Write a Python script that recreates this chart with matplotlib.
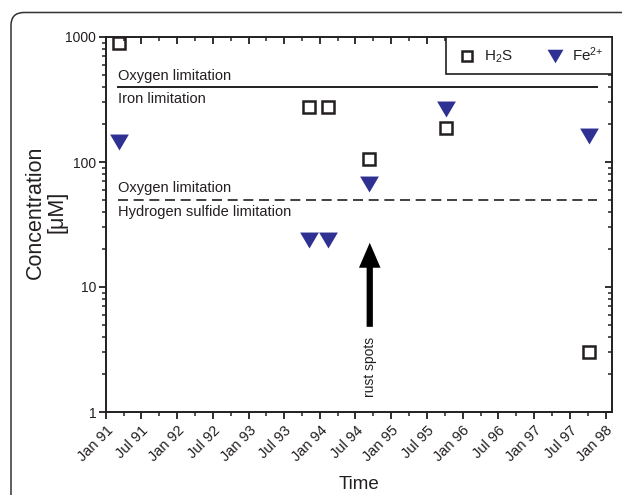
import numpy as np
import matplotlib
matplotlib.use("Agg")
import matplotlib.pyplot as plt
import matplotlib.dates as mdates
from matplotlib.patches import FancyBboxPatch
from matplotlib.transforms import IdentityTransform

# フォント設定
plt.rcParams["font.family"] = ["Liberation Sans", "DejaVu Sans"]
plt.rcParams["mathtext.fontset"] = "custom"
plt.rcParams["mathtext.rm"] = "Liberation Sans"
plt.rcParams["mathtext.it"] = "Liberation Sans:italic"
plt.rcParams["mathtext.bf"] = "Liberation Sans:bold"

txt_color = "#231f20"
fe_color = "#2e3192"

# データ
h2s_dates = ["1991-03-11", "1993-11-07", "1994-02-09", "1994-09-10", "1995-10-08", "1997-10-10"]
h2s_values = [895, 274, 274, 106, 188, 3.0]
fe_dates = ["1991-03-11", "1993-11-07", "1994-02-09", "1994-09-10", "1995-10-08", "1997-10-10"]
fe_values = [145, 23.8, 23.8, 67, 266, 162]

# 限界線
limit_start = "1991-03-01"
limit_end = "1997-11-20"
iron_limit = 400
sulfide_limit = 50

# 矢印 (rust spots)
rust_date = "1994-09-12"
rust_tail = 4.8
rust_tip = 22.6

x_min, x_max = "1991-01-01", "1998-02-03"

to_num = lambda d: mdates.datestr2num(d)

fig = plt.figure(figsize=(6.22, 4.95), dpi=100)
ax = fig.add_axes([106 / 622, 1 - 412 / 495, (612 - 106) / 622, (412 - 37) / 495])

# 外枠 (角丸)
frame = FancyBboxPatch((11, -60), 720, 482.5 + 60, boxstyle="round,pad=0,rounding_size=13",
                       transform=IdentityTransform(), facecolor="none", edgecolor="#333333",
                       linewidth=1.1, clip_on=False)
fig.add_artist(frame)

# 限界線
ax.plot(to_num([limit_start, limit_end]), [iron_limit, iron_limit], color=txt_color, lw=1.4)
ax.plot(to_num([limit_start, limit_end]), [sulfide_limit, sulfide_limit], color=txt_color,
        lw=1.2, dashes=(6, 3.4))

ax.annotate("Oxygen limitation", xy=(to_num(limit_start), iron_limit), xytext=(0, 3),
            textcoords="offset points", va="bottom", ha="left", fontsize=10.5, color=txt_color)
ax.annotate("Iron limitation", xy=(to_num(limit_start), iron_limit), xytext=(0, -4),
            textcoords="offset points", va="top", ha="left", fontsize=10.5, color=txt_color)
ax.annotate("Oxygen limitation", xy=(to_num(limit_start), sulfide_limit), xytext=(0, 3),
            textcoords="offset points", va="bottom", ha="left", fontsize=10.5, color=txt_color)
ax.annotate("Hydrogen sulfide limitation", xy=(to_num(limit_start), sulfide_limit), xytext=(0, -4),
            textcoords="offset points", va="top", ha="left", fontsize=10.5, color=txt_color)

# データ点
tri = [(-1, 0.85), (1, 0.85), (0, -0.85)]
ax.plot(to_num(h2s_dates), h2s_values, ls="none", marker="s", ms=8.5, mfc="white",
        mec=txt_color, mew=1.8, label="H$_2$S", zorder=3)
ax.plot(to_num(fe_dates), fe_values, ls="none", marker=tri, ms=13.5, mfc=fe_color,
        mec="none", label="Fe$^{2{+}}$", zorder=3)

# 矢印
ax.annotate("", xy=(to_num(rust_date), rust_tip), xytext=(to_num(rust_date), rust_tail),
            arrowprops=dict(arrowstyle="simple,head_length=1.8,head_width=1.55,tail_width=0.45",
                            mutation_scale=10, facecolor="black", edgecolor="none",
                            shrinkA=0, shrinkB=0))
ax.annotate("rust spots", xy=(to_num(rust_date), rust_tail), xytext=(0, -7),
            textcoords="offset points", rotation=90, va="top", ha="center",
            fontsize=10, color=txt_color)

# 軸
ax.set_yscale("log")
ax.set_ylim(1, 1000)
ax.set_xlim(to_num(x_min), to_num(x_max))
ax.xaxis.set_major_locator(mdates.MonthLocator(bymonth=[1, 7]))
ax.xaxis.set_minor_locator(mdates.MonthLocator(bymonth=[4, 10]))
ax.xaxis.set_major_formatter(mdates.DateFormatter("%b %y"))
ax.yaxis.set_major_formatter(matplotlib.ticker.FuncFormatter(lambda v, p: f"{v:g}"))
ax.yaxis.set_minor_locator(matplotlib.ticker.LogLocator(subs=np.arange(2, 10)))
ax.yaxis.set_minor_formatter(matplotlib.ticker.NullFormatter())

for sp in ax.spines.values():
    sp.set_linewidth(1.4)
    sp.set_color(txt_color)

ax.tick_params(which="major", direction="out", length=5, width=1.3, colors=txt_color, pad=2)
ax.tick_params(which="minor", direction="out", length=3, width=1.1, colors=txt_color)
ax.tick_params(axis="y", labelsize=10)
ax.tick_params(axis="x", labelsize=10.5, pad=3)
for lab in ax.get_xticklabels():
    lab.set_rotation(45)
    lab.set_ha("right")
    lab.set_va("top")
    lab.set_rotation_mode("anchor")

# 上・右の目盛り (内向き)
ax_top = ax.twiny()
ax_top.set_xlim(ax.get_xlim())
ax_top.xaxis.set_major_locator(mdates.MonthLocator(bymonth=[1, 7]))
ax_top.xaxis.set_minor_locator(mdates.MonthLocator(bymonth=[4, 10]))
ax_top.tick_params(which="major", direction="in", length=5, width=1.3, colors=txt_color,
                   labeltop=False)
ax_top.tick_params(which="minor", direction="in", length=3, width=1.1, colors=txt_color)
ax_right = ax.twinx()
ax_right.set_yscale("log")
ax_right.set_ylim(1, 1000)
ax_right.yaxis.set_minor_locator(matplotlib.ticker.LogLocator(subs=np.arange(2, 10)))
ax_right.tick_params(which="major", direction="in", length=5, width=1.3, colors=txt_color,
                     labelright=False)
ax_right.tick_params(which="minor", direction="in", length=3, width=1.1, colors=txt_color)
for a in (ax_top, ax_right):
    for sp in a.spines.values():
        sp.set_visible(False)

ax.set_ylabel("Concentration\n[μM]", fontsize=15.5, color=txt_color, linespacing=1.0)
ax.yaxis.set_label_coords(-0.077, 0.533)
ax.set_xlabel("Time", fontsize=13.5, color=txt_color)
ax.xaxis.set_label_coords(0.5, -0.171)

leg = ax_right.legend(*ax.get_legend_handles_labels(), loc="upper right", ncol=2,
                      fancybox=False, edgecolor=txt_color, framealpha=1, borderaxespad=0,
                      fontsize=11, markerscale=0.85, handlelength=1.6, handletextpad=0.3,
                      columnspacing=2.0, borderpad=0.55)
leg.get_frame().set_linewidth(1.2)
leg.set_zorder(5)
for t in leg.get_texts():
    t.set_color(txt_color)

fig.savefig("out.png", dpi=100)
